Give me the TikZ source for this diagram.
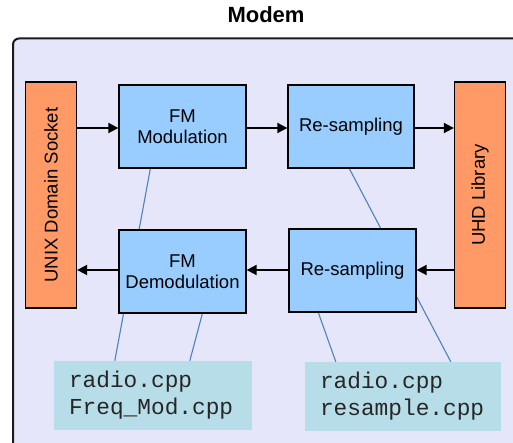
\documentclass[tikz,border=0pt]{standalone}
\usepackage{fontspec}
\setmainfont{Liberation Sans}
\newfontfamily\codefont{Liberation Mono}
\usetikzlibrary{arrows.meta,calc}
\definecolor{bgpurple}{HTML}{E6E6FA}
\definecolor{boxblue}{HTML}{99CCFF}
\definecolor{boxorange}{HTML}{FF9966}
\definecolor{codebg}{HTML}{B7DDE8}
\definecolor{linkblue}{HTML}{4F81BD}
\definecolor{frame}{HTML}{1A1A1A}
\pgfdeclarelayer{back}
\pgfdeclarelayer{mid}
\pgfsetlayers{back,mid,main}
\tikzset{
  blockbox/.style={draw=black, line width=1.3pt, fill=boxblue, minimum width=127pt, minimum height=83pt, inner sep=0pt, align=center, font=\fontsize{18.5}{21}\selectfont},
  sidebox/.style={draw=black, line width=1.3pt, fill=boxorange, minimum width=51pt, minimum height=226pt, inner sep=0pt},
  sidetext/.style={rotate=90, font=\fontsize{18.5}{21}\selectfont},
  codebox/.style={fill=codebg, inner xsep=15pt, inner ysep=0pt, text width=168pt, minimum height=69pt, align=left, text=black!85, font=\codefont\fontsize{22.8}{27}\selectfont},
  flow/.style={line width=1.8pt, -{Triangle[length=10pt,width=10pt]}},
  link/.style={draw=linkblue, line width=1.1pt},
}
\begin{document}
\begin{tikzpicture}[x=1pt,y=-1pt]
\useasboundingbox (0,0) rectangle (513,443);
\clip (0,0) rectangle (513,443);
\node[font=\bfseries\fontsize{22}{24}\selectfont] (title) at (266,15) {Modem};
\begin{pgfonlayer}{back}
\draw[fill=bgpurple, draw=frame, line width=2pt, rounded corners=6pt] (13,38.5) rectangle (540,470);
\end{pgfonlayer}
\node[sidebox] (unix) at (51,195) {};
\node[sidetext] at (unix.center) {UNIX Domain Socket};
\node[sidebox] (uhd) at (480,195) {};
\node[sidetext] at (uhd.center) {UHD Library};
\node[blockbox] (fmmod) at (182.5,126.5) {FM\\Modulation};
\node[blockbox, minimum width=126pt] (rs1) at (351,126.5) {Re-sampling};
\node[blockbox] (fmdemod) at (182.5,271.5) {FM\\Demodulation};
\node[blockbox] (rs2) at (352.5,270.5) {Re-sampling};
\node[codebox, minimum width=198pt] (codeL) at (153,395.5) {radio.cpp\\Freq\_Mod.cpp};
\node[codebox, minimum width=196pt, text width=166pt] (codeR) at (403,396.5) {radio.cpp\\resample.cpp};
% arrows
\draw[flow] (unix.east |- 0,128) -- (fmmod.west |- 0,128);
\draw[flow] (fmmod.east |- 0,128) -- (rs1.west |- 0,128);
\draw[flow] (rs1.east |- 0,128) -- (uhd.west |- 0,128);
\draw[flow] (uhd.west |- 0,270) -- (rs2.east |- 0,270);
\draw[flow] (rs2.west |- 0,270) -- (fmdemod.east |- 0,270);
\draw[flow] (fmdemod.west |- 0,270) -- (unix.east |- 0,270);
% links
\begin{pgfonlayer}{mid}
\draw[link] ($(codeL.north west)+(61,0)$) -- ($(fmmod.south west)+(32,0)$);
\draw[link] ($(codeL.north west)+(136,0)$) -- ($(fmdemod.south west)+(84,0)$);
\draw[link] ($(codeR.north west)+(31,0)$) -- ($(rs2.south west)+(30,0)$);
\draw[link] ($(codeR.north west)+(146,0)$) -- ($(rs1.south west)+(62,0)$);
\end{pgfonlayer}
\end{tikzpicture}
\end{document}
